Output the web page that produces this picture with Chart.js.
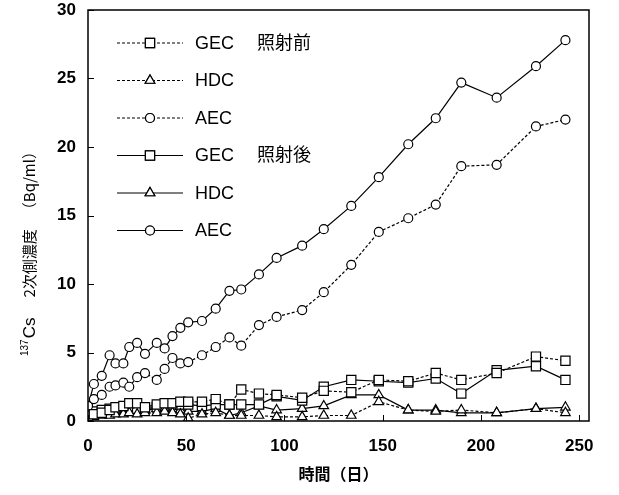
<!DOCTYPE html>
<html lang="ja">
<head>
<meta charset="UTF-8">
<title>137Cs 2次側濃度の経時変化</title>
<script src="https://cdn.jsdelivr.net/npm/chart.js@4.4.1/dist/chart.umd.min.js"></script>
<style>
  html, body { margin: 0; padding: 0; background: #fff; }
  .chart-box { position: relative; width: 619px; height: 495px; }
</style>
</head>
<body>
<div class="chart-box"><canvas id="csChart"></canvas></div>
<script>
// 経過日数（日）
const days = [0, 3, 7, 11, 14, 18, 21, 25, 29, 35, 39, 43, 47, 51, 58, 65, 72, 78, 87, 96, 109, 120, 134, 148, 163, 177, 190, 208, 228, 243];

// 照射前（点線）
const gecBefore = [0.4, 0.5, 0.6, 0.8, 1.0, 1.1, 1.3, 1.3, 1.0, 1.2, 1.3, 1.3, 1.4, 1.4, 1.4, 1.6, 1.2, 2.3, 2.0, 1.9, 1.7, 2.2, 2.1, 3.0, 2.9, 3.5, 3.0, 3.5, 4.7, 4.4];
const hdcBefore = [0.3, 0.3, 0.4, 0.4, 0.5, 0.5, 0.6, 0.5, 0.6, 0.6, 0.7, 0.6, 0.5, 0.2, 0.5, 0.6, 0.4, 0.4, 0.4, 0.3, 0.3, 0.4, 0.4, 1.4, 0.8, 0.7, 0.8, 0.6, 0.9, 0.6];
const aecBefore = [1.1, 1.6, 1.9, 2.5, 2.6, 2.8, 2.5, 3.2, 3.5, 3.0, 3.8, 4.6, 4.2, 4.3, 4.8, 5.4, 6.1, 5.5, 7.0, 7.6, 8.1, 9.4, 11.4, 13.8, 14.8, 15.8, 18.6, 18.7, 21.5, 22.0];

// 照射後（実線）
const gecAfter = [0.6, 0.7, 0.8, 0.9, 0.9, 1.0, 1.1, 0.9, 0.9, 1.0, 1.1, 1.2, 1.2, 1.2, 1.1, 1.2, 1.2, 1.2, 1.2, 1.8, 1.5, 2.5, 3.0, 2.9, 2.8, 3.1, 2.0, 3.7, 4.0, 3.0];
const hdcAfter = [0.5, 0.5, 0.6, 0.6, 0.8, 0.6, 0.9, 0.9, 0.8, 0.9, 1.0, 0.9, 0.8, 0.7, 0.7, 0.9, 0.4, 0.6, 1.1, 0.8, 0.9, 1.1, 1.9, 1.9, 0.8, 0.8, 0.6, 0.6, 0.9, 1.0];
const aecAfter = [1.1, 2.7, 3.3, 4.8, 4.2, 4.2, 5.4, 5.7, 4.9, 5.7, 5.3, 6.2, 6.8, 7.2, 7.3, 8.2, 9.5, 9.6, 10.7, 11.9, 12.8, 14.0, 15.7, 17.8, 20.2, 22.1, 24.7, 23.6, 25.9, 27.8];

const xTicks = [0, 50, 100, 150, 200, 250];
const yTicks = [0, 5, 10, 15, 20, 25, 30];
const legendLabels = ['GEC　 照射前', 'HDC', 'AEC', 'GEC　 照射後', 'HDC', 'AEC'];

const toPoints = vals => vals.map((v, i) => ({ x: days[i], y: v }));

function series(label, vals, shape, dashed) {
    return {
        label: label,
        data: toPoints(vals),
        borderColor: '#000',
        borderWidth: 1.2,
        borderDash: dashed ? [3, 2] : [],
        pointStyle: shape,
        pointRadius: shape === 'rect' ? 6.5 : (shape === 'triangle' ? 5.5 : 4.5),
        pointBorderWidth: 1.2,
        pointBorderColor: '#000',
        pointBackgroundColor: '#fff',
        tension: 0,
        fill: false
    };
}

// 枠・内向き目盛り
const frameTicks = {
    id: 'frameTicks',
    afterDatasetsDraw(chart) {
        const { ctx, chartArea: a, scales: { x, y } } = chart;
        ctx.save();
        ctx.strokeStyle = '#000';
        ctx.lineWidth = 1.5;
        ctx.strokeRect(a.left, a.top, a.right - a.left, a.bottom - a.top);
        ctx.lineWidth = 1;
        ctx.beginPath();
        yTicks.forEach(v => {
            const py = Math.round(y.getPixelForValue(v)) + 0.5;
            ctx.moveTo(a.left, py);
            ctx.lineTo(a.left + 6, py);
        });
        xTicks.forEach(v => {
            const px = Math.round(x.getPixelForValue(v)) + 0.5;
            ctx.moveTo(px, a.bottom);
            ctx.lineTo(px, a.bottom - 6);
        });
        ctx.stroke();
        ctx.restore();
    }
};

// 凡例（グラフ内左上）
const innerLegend = {
    id: 'innerLegend',
    afterDraw(chart) {
        const { ctx, chartArea: a } = chart;
        ctx.save();
        chart.data.datasets.forEach((ds, i) => {
            const yy = a.top + 33 + i * 37.5;
            const x0 = a.left + 29, x1 = a.left + 95, xm = (x0 + x1) / 2;
            ctx.strokeStyle = '#000';
            ctx.lineWidth = 1.2;
            ctx.setLineDash(ds.borderDash);
            ctx.beginPath();
            ctx.moveTo(x0, yy);
            ctx.lineTo(x1, yy);
            ctx.stroke();
            ctx.setLineDash([]);
            Chart.helpers.drawPoint(ctx, {
                pointStyle: ds.pointStyle,
                radius: ds.pointRadius,
                borderWidth: 1.2,
                rotation: 0
            }, xm, yy);
            ctx.fillStyle = '#fff';
            ctx.fill();
            ctx.stroke();
            ctx.fillStyle = '#000';
            ctx.font = '18px "Liberation Sans", "Noto Sans CJK JP", sans-serif';
            ctx.textBaseline = 'middle';
            ctx.fillText(legendLabels[i], a.left + 107, yy + 1);
        });
        ctx.restore();
    }
};

// 縦軸タイトル（137 は上付き）
const yTitle = {
    id: 'yTitle',
    afterDraw(chart) {
        const ctx = chart.ctx;
        ctx.save();
        ctx.translate(30, 356);
        ctx.rotate(-Math.PI / 2);
        ctx.fillStyle = '#000';
        ctx.textBaseline = 'alphabetic';
        let cx = 0;
        ctx.font = '10px "Liberation Sans", sans-serif';
        ctx.fillText('137', cx, -2);
        cx += ctx.measureText('137').width + 1;
        ctx.font = '17px "Liberation Sans", sans-serif';
        ctx.fillText('Cs', cx, 5);
        cx += ctx.measureText('Cs').width + 20;
        ctx.font = '15px "Noto Sans CJK JP", sans-serif';
        ctx.fillText('2次側濃度', cx, 5);
        cx += ctx.measureText('2次側濃度').width + 12;
        ctx.fillText('（Bq/ml）', cx, 5);
        ctx.restore();
    }
};

new Chart(document.getElementById('csChart'), {
    type: 'line',
    data: {
        datasets: [
            series('GEC 照射前', gecBefore, 'rect', true),
            series('HDC 照射前', hdcBefore, 'triangle', true),
            series('AEC 照射前', aecBefore, 'circle', true),
            series('GEC 照射後', gecAfter, 'rect', false),
            series('HDC 照射後', hdcAfter, 'triangle', false),
            series('AEC 照射後', aecAfter, 'circle', false)
        ]
    },
    options: {
        responsive: true,
        maintainAspectRatio: false,
        animation: false,
        layout: { padding: { left: 0, right: 30, top: 10, bottom: 0 } },
        plugins: {
            legend: { display: false },
            tooltip: { enabled: false }
        },
        scales: {
            x: {
                type: 'linear',
                min: 0,
                max: 255,
                afterFit: s => { s.height = 74; s.paddingLeft = 0; s.paddingRight = 0; },
                grid: { display: false, drawTicks: false },
                border: { display: false },
                ticks: {
                    stepSize: 50,
                    includeBounds: false,
                    padding: 15,
                    color: '#000',
                    font: { family: '"Liberation Sans", Arial, sans-serif', size: 17, weight: 'bold' }
                },
                title: {
                    display: true,
                    text: '時間（日）',
                    color: '#000',
                    padding: { top: 0, bottom: 11 },
                    font: { family: '"Noto Sans CJK JP", sans-serif', size: 16, weight: 'bold' }
                }
            },
            y: {
                min: 0,
                max: 30,
                afterFit: s => { s.width = 88; s.paddingTop = 0; s.paddingBottom = 0; },
                grid: { display: false, drawTicks: false },
                border: { display: false },
                ticks: {
                    stepSize: 5,
                    padding: 12,
                    color: '#000',
                    font: { family: '"Liberation Sans", Arial, sans-serif', size: 17, weight: 'bold' }
                }
            }
        }
    },
    plugins: [frameTicks, innerLegend, yTitle]
});
</script>
</body>
</html>
